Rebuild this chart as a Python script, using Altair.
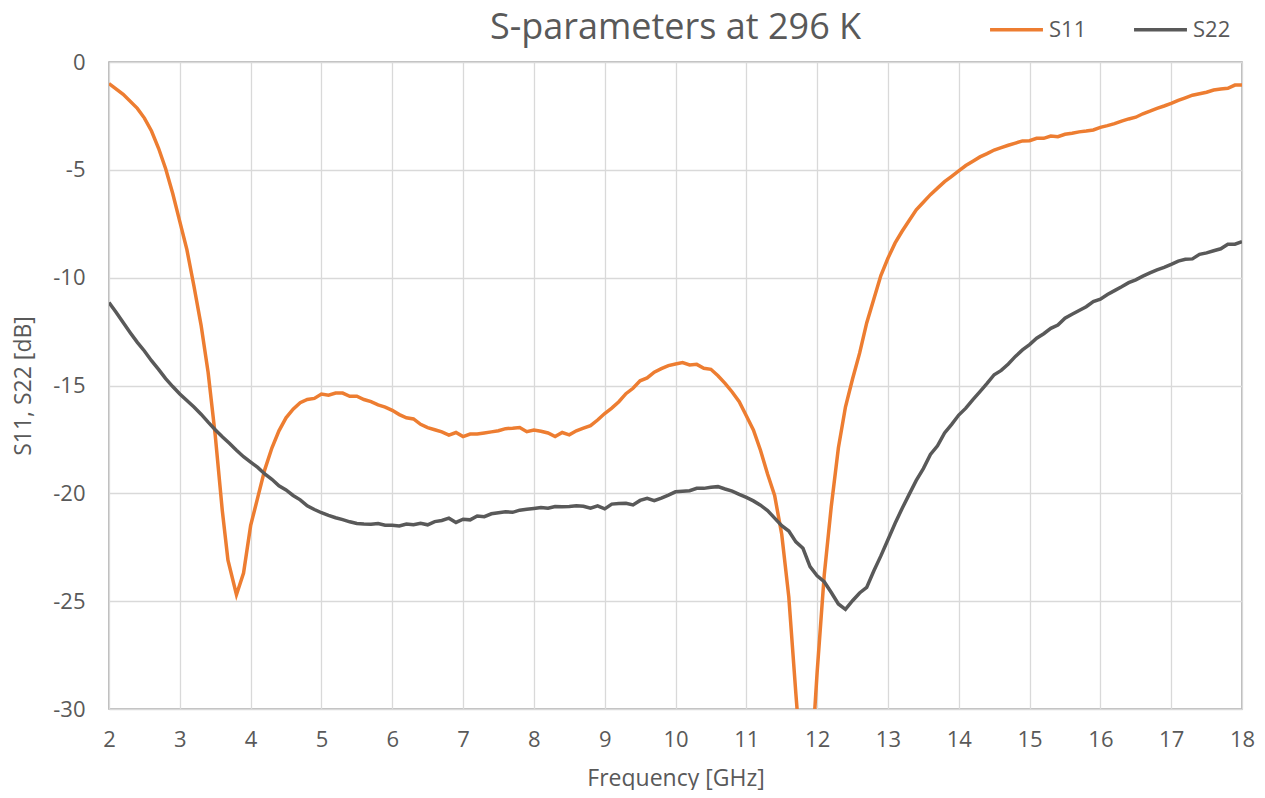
import altair as alt
import pandas as pd

# ---- data ----
s11_freq = [2.0, 2.2, 2.4, 2.5, 2.6, 2.7, 2.8, 2.9, 3.0, 3.1, 3.2, 3.3, 3.4, 3.5, 3.6, 3.68, 3.8, 3.9,
            4.0, 4.1, 4.2, 4.3, 4.4, 4.5, 4.6, 4.7, 4.8, 4.9, 5.0, 5.1, 5.2, 5.3, 5.4, 5.5, 5.6, 5.7,
            5.8, 5.9, 6.0, 6.1, 6.2, 6.3, 6.4, 6.5, 6.6, 6.7, 6.8, 6.9, 7.0, 7.1, 7.2, 7.3, 7.4, 7.5,
            7.6, 7.7, 7.8, 7.9, 8.0, 8.1, 8.2, 8.3, 8.4, 8.5, 8.6, 8.7, 8.8, 8.9, 9.0, 9.1, 9.2, 9.3,
            9.4, 9.5, 9.6, 9.7, 9.8, 9.9, 10.0, 10.1, 10.2, 10.3, 10.4, 10.5, 10.6, 10.7, 10.8, 10.9,
            11.0, 11.1, 11.2, 11.3, 11.4, 11.5, 11.6, 11.7, 11.8, 11.9, 12.0, 12.1, 12.2, 12.3, 12.4,
            12.5, 12.6, 12.7, 12.8, 12.9, 13.0, 13.1, 13.2, 13.3, 13.4, 13.5, 13.6, 13.7, 13.8, 13.9,
            14.0, 14.1, 14.2, 14.3, 14.4, 14.5, 14.6, 14.7, 14.8, 14.9, 15.0, 15.1, 15.2, 15.3, 15.4,
            15.5, 15.6, 15.7, 15.8, 15.9, 16.0, 16.1, 16.2, 16.3, 16.4, 16.5, 16.6, 16.7, 16.8, 16.9,
            17.0, 17.1, 17.2, 17.3, 17.4, 17.5, 17.6, 17.7, 17.8, 17.9, 18.0]
s11_db = [-1.0, -1.5, -2.15, -2.6, -3.2, -4.0, -4.95, -6.1, -7.4, -8.7, -10.4, -12.2, -14.4, -17.3,
          -20.8, -23.1, -24.7, -23.7, -21.5, -20.2, -18.9, -17.9, -17.1, -16.5, -16.1, -15.8, -15.65,
          -15.6, -15.4, -15.45, -15.35, -15.35, -15.5, -15.5, -15.65, -15.75, -15.9, -16.0, -16.15,
          -16.35, -16.5, -16.55, -16.8, -16.95, -17.05, -17.15, -17.3, -17.18, -17.37, -17.25, -17.25,
          -17.2, -17.15, -17.1, -17.0, -16.98, -16.95, -17.14, -17.06, -17.12, -17.2, -17.37, -17.18,
          -17.29, -17.1, -16.98, -16.86, -16.6, -16.3, -16.05, -15.75, -15.38, -15.13, -14.78, -14.65,
          -14.38, -14.22, -14.08, -14.0, -13.94, -14.05, -14.02, -14.2, -14.25, -14.55, -14.9, -15.3,
          -15.75, -16.4, -17.06, -18.0, -19.1, -20.1, -21.9, -24.8, -29.3, -33.5, -33.5, -28.3, -23.8,
          -20.6, -17.9, -16.0, -14.7, -13.5, -12.1, -11.0, -9.9, -9.1, -8.4, -7.85, -7.35, -6.85, -6.5,
          -6.15, -5.85, -5.55, -5.3, -5.05, -4.8, -4.6, -4.4, -4.25, -4.08, -3.97, -3.86, -3.76, -3.66,
          -3.65, -3.54, -3.54, -3.43, -3.46, -3.35, -3.3, -3.24, -3.2, -3.15, -3.03, -2.95, -2.86,
          -2.74, -2.64, -2.56, -2.4, -2.28, -2.15, -2.04, -1.92, -1.78, -1.66, -1.54, -1.47, -1.4,
          -1.3, -1.25, -1.22, -1.07, -1.07]

s22_freq = [2.0, 2.1, 2.2, 2.3, 2.4, 2.5, 2.6, 2.7, 2.8, 2.9, 3.0, 3.1, 3.2, 3.3, 3.4, 3.5, 3.6, 3.7,
            3.8, 3.9, 4.0, 4.1, 4.2, 4.3, 4.4, 4.5, 4.6, 4.7, 4.8, 4.9, 5.0, 5.1, 5.2, 5.3, 5.4, 5.5,
            5.6, 5.7, 5.8, 5.9, 6.0, 6.1, 6.2, 6.3, 6.4, 6.5, 6.6, 6.7, 6.8, 6.9, 7.0, 7.1, 7.2, 7.3,
            7.4, 7.5, 7.6, 7.7, 7.8, 7.9, 8.0, 8.1, 8.2, 8.3, 8.4, 8.5, 8.6, 8.7, 8.8, 8.9, 9.0, 9.1,
            9.2, 9.3, 9.4, 9.5, 9.6, 9.7, 9.8, 9.9, 10.0, 10.1, 10.2, 10.3, 10.4, 10.5, 10.6, 10.7,
            10.8, 10.9, 11.0, 11.1, 11.2, 11.3, 11.4, 11.5, 11.6, 11.7, 11.8, 11.9, 12.0, 12.1, 12.2,
            12.3, 12.4, 12.5, 12.6, 12.7, 12.8, 12.9, 13.0, 13.1, 13.2, 13.3, 13.4, 13.5, 13.6, 13.7,
            13.8, 13.9, 14.0, 14.1, 14.2, 14.3, 14.4, 14.5, 14.6, 14.7, 14.8, 14.9, 15.0, 15.1, 15.2,
            15.3, 15.4, 15.5, 15.6, 15.7, 15.8, 15.9, 16.0, 16.1, 16.2, 16.3, 16.4, 16.5, 16.6, 16.7,
            16.8, 16.9, 17.0, 17.1, 17.2, 17.3, 17.4, 17.5, 17.6, 17.7, 17.8, 17.9, 18.0]
s22_db = [-11.15, -11.6, -12.08, -12.55, -13.0, -13.4, -13.85, -14.25, -14.68, -15.05, -15.39, -15.7,
          -16.0, -16.33, -16.7, -17.05, -17.38, -17.68, -18.0, -18.3, -18.55, -18.8, -19.1, -19.35,
          -19.65, -19.84, -20.1, -20.3, -20.58, -20.75, -20.9, -21.02, -21.13, -21.22, -21.32, -21.4,
          -21.42, -21.43, -21.4, -21.48, -21.48, -21.51, -21.42, -21.46, -21.39, -21.46, -21.31,
          -21.26, -21.15, -21.35, -21.2, -21.23, -21.05, -21.08, -20.95, -20.9, -20.85, -20.88,
          -20.78, -20.74, -20.7, -20.66, -20.69, -20.61, -20.62, -20.61, -20.58, -20.6, -20.69,
          -20.58, -20.72, -20.5, -20.47, -20.46, -20.54, -20.33, -20.23, -20.34, -20.22, -20.08,
          -19.93, -19.9, -19.88, -19.77, -19.77, -19.72, -19.69, -19.8, -19.9, -20.05, -20.19,
          -20.35, -20.55, -20.8, -21.15, -21.5, -21.75, -22.25, -22.55, -23.4, -23.82, -24.1, -24.6,
          -25.13, -25.38, -24.98, -24.62, -24.36, -23.6, -22.9, -22.15, -21.4, -20.7, -20.05, -19.4,
          -18.85, -18.2, -17.8, -17.2, -16.8, -16.37, -16.05, -15.65, -15.28, -14.9, -14.5, -14.3,
          -14.0, -13.65, -13.35, -13.1, -12.81, -12.6, -12.35, -12.2, -11.88, -11.7, -11.52, -11.35,
          -11.11, -11.0, -10.78, -10.6, -10.42, -10.23, -10.1, -9.93, -9.78, -9.64, -9.52, -9.38,
          -9.23, -9.15, -9.13, -8.92, -8.85, -8.75, -8.66, -8.45, -8.45, -8.33]

series_names = ["S11", "S22"]
series_colors = ["#ED7D31", "#595959"]
x_ticks = list(range(2, 19))
y_ticks = [0, -5, -10, -15, -20, -25, -30]

df = pd.concat([
    pd.DataFrame({"freq": s11_freq, "db": s11_db, "series": "S11", "order": range(len(s11_freq))}),
    pd.DataFrame({"freq": s22_freq, "db": s22_db, "series": "S22", "order": range(len(s22_freq))}),
])

FONT = "Open Sans"
TXT = "#595959"

chart = alt.Chart(df).mark_line(clip=True, strokeWidth=3.5).encode(
    x=alt.X("freq:Q", scale=alt.Scale(domain=[2, 18], nice=False, zero=False),
            axis=alt.Axis(values=x_ticks, title="Frequency [GHz]", grid=True, ticks=False,
                          domain=False, labelPadding=20, labelFontSize=22, titleFontSize=23,
                          titlePadding=17, labelFlush=False)),
    y=alt.Y("db:Q", scale=alt.Scale(domain=[-30, 0], nice=False, zero=False),
            axis=alt.Axis(values=y_ticks, title="S11, S22 [dB]", grid=True, ticks=False,
                          domain=False, labelPadding=24, labelFontSize=22, titleFontSize=23,
                          titlePadding=17, labelExpr="toString(datum.value)")),
    color=alt.Color("series:N", scale=alt.Scale(domain=series_names, range=series_colors),
                    legend=alt.Legend(title=None, orient="none", direction="horizontal",
                                      legendX=879, legendY=-61, symbolType="stroke",
                                      symbolSize=2800, symbolStrokeWidth=3.5,
                                      labelFontSize=22, labelOffset=4, columnPadding=40,
                                      padding=0, labelColor=TXT, labelFont=FONT)),
    order="order:Q",
).properties(
    width=1133, height=647,
    title=alt.TitleParams("S-parameters at 296 K", fontSize=36, font=FONT, fontWeight="normal",
                          color=TXT, anchor="middle", offset=14, dy=60),
    autosize=alt.AutoSizeParams(type="none"),
    padding={"left": 101, "top": 54, "right": 15, "bottom": 81},
).configure_view(
    stroke="#A6A6A6", strokeWidth=1.5
).configure_axis(
    gridColor="#D9D9D9", gridWidth=1.3, labelColor=TXT, titleColor=TXT,
    labelFont=FONT, titleFont=FONT, titleFontWeight="normal"
)

chart.save("out.html", embed_options={"renderer": "svg", "actions": False})
